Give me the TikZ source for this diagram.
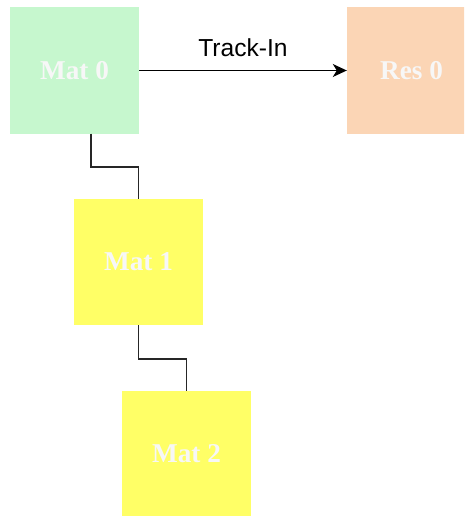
\documentclass[tikz,border=0pt]{standalone}
\usepackage{fontspec}
\setmainfont{Liberation Serif}
\newfontfamily\labelfont{Liberation Sans}
\usetikzlibrary{arrows.meta,calc}
\definecolor{matgreen}{HTML}{C6F7CE}
\definecolor{respeach}{HTML}{FBD5B5}
\definecolor{matyellow}{HTML}{FFFF66}
\definecolor{boxtext}{HTML}{F7F7F7}
\begin{document}
\begin{tikzpicture}[x=1pt,y=-1pt,
  box/.style={draw=none, minimum width=129pt, minimum height=126pt, inner sep=0pt,
    text=boxtext, font=\fontsize{27.2}{31}\selectfont\bfseries},
  conn/.style={draw=black!85, line width=1.5pt},
  arr/.style={draw=black, line width=1.5pt, -{Stealth[length=14pt,width=13pt,inset=4pt]}},
  lbl/.style={font=\labelfont\fontsize{24.6}{28}\selectfont, text=black, inner sep=0pt}]
\useasboundingbox (0,0) rectangle (464,516);
\begin{scope}
\clip (0,0) rectangle (464,516);
\node[box, fill=matgreen] (m0) at (74.5,70.5) {Mat 0};
\node[box, fill=respeach] (r0) at (411.5,70.5) {Res 0};
\node[box, fill=matyellow] (m1) at (138.5,262) {Mat 1};
\node[box, fill=matyellow] (m2) at (186.5,454) {Mat 2};
\end{scope}
\draw[arr] (m0.east) -- (r0.west) node[lbl, pos=0.5, yshift=23pt] (t) {Track-In};
\draw[conn] ($(m0.south)+(16.5,0)$) |- ($(m1.north)+(0,-32)$) -- (m1.north);
\draw[conn] (m1.south) |- ($(m2.north)+(0,-32)$) -- (m2.north);
\end{tikzpicture}
\end{document}
